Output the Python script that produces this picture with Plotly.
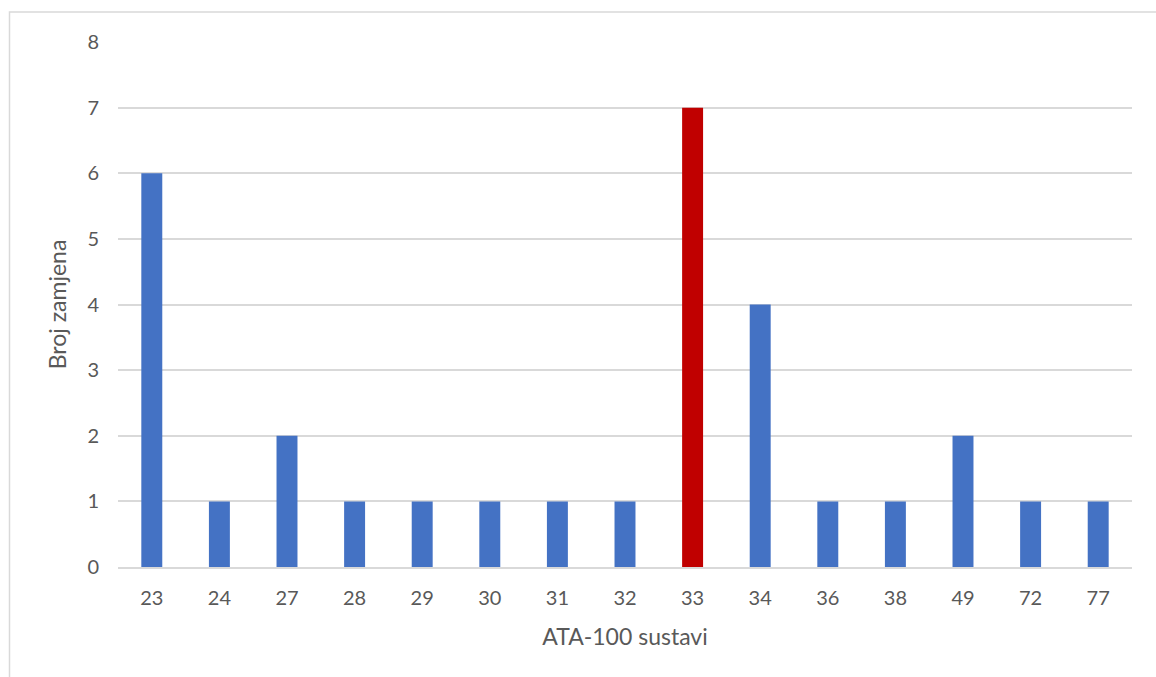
import plotly.graph_objects as go

categories = ["23", "24", "27", "28", "29", "30", "31", "32", "33", "34", "36", "38", "49", "72", "77"]
values = [6, 1, 2, 1, 1, 1, 1, 1, 7, 4, 1, 1, 2, 1, 1]
highlight = "33"
colors = ["#C00000" if c == highlight else "#4472C4" for c in categories]

fig = go.Figure(go.Bar(x=categories, y=values, marker=dict(color=colors, line=dict(width=0)), width=0.31))

font_family = "Lato, Open Sans, sans-serif"
fig.update_layout(
    width=1156, height=677,
    margin=dict(l=118, r=24, t=42, b=110),
    plot_bgcolor="white", paper_bgcolor="white",
    showlegend=False,
    font=dict(family=font_family, size=20, color="#595959"),
    xaxis=dict(type="category", showgrid=False, showline=True, linecolor="#d9d9d9", linewidth=2,
               ticks="", ticklabelstandoff=12,
               title=dict(text="ATA-100 sustavi", font=dict(size=23, color="#595959"), standoff=21)),
    yaxis=dict(range=[0, 8], dtick=1, showgrid=True, gridcolor="#d9d9d9", gridwidth=1.5,
               zeroline=False, showline=False, ticks="", ticklabelstandoff=18,
               title=dict(text="Broj zamjena", font=dict(size=23, color="#595959"), standoff=14)),
    shapes=[dict(type="rect", xref="paper", yref="paper", x0=-0.107, x1=1.2, y0=-0.4, y1=1.057,
                 line=dict(color="#d9d9d9", width=1.5), fillcolor="rgba(0,0,0,0)", layer="below")],
)

fig.write_html("out.html", config={"displayModeBar": False},
               post_script="document.body.style.margin='0';")
